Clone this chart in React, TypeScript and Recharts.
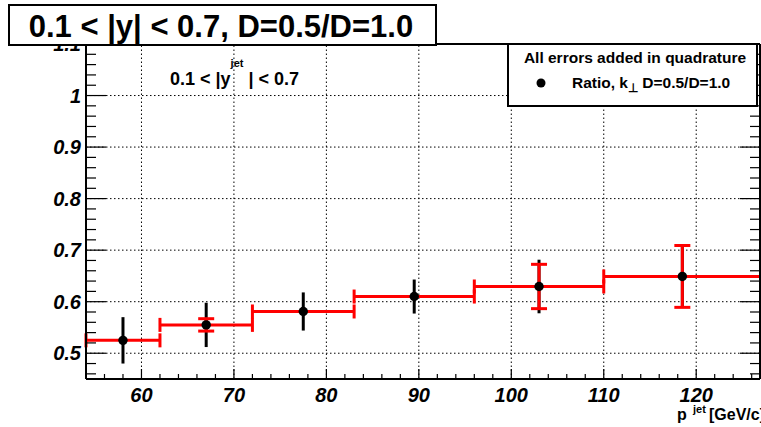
import React from 'react';
import { ComposedChart, Scatter, XAxis, YAxis, ErrorBar, ReferenceLine } from 'recharts';

// ---- data ----
const binLow = [54, 62, 72, 83, 96, 110];
const binHigh = [62, 72, 83, 96, 110, 127];
const ptX = [58, 67, 77.5, 89.5, 103, 118.5];
const ratio = [0.525, 0.555, 0.581, 0.61, 0.6295, 0.649];
const statErr = [0.045, 0.043, 0.037, 0.033, 0.052, 0.061];
const sysErr = [0, 0.012, 0, 0, 0.043, 0.06];

const xMajorTicks = [60, 70, 80, 90, 100, 110, 120];
const yMajorTicks = [0.5, 0.6, 0.7, 0.8, 0.9, 1.0, 1.1];
const yGridTicks = [0.5, 0.6, 0.7, 0.8, 0.9, 1.0];
const xAllTicks = Array.from({ length: 37 }, (_, i) => 54 + 2 * i);
const yAllTicks = Array.from({ length: 33 }, (_, i) => Math.round((0.46 + 0.02 * i) * 100) / 100);

const xDomain: [number, number] = [54, 126.9];
const yDomain: [number, number] = [0.45, 1.1];

const points = ptX.map((x, i) => ({
  x,
  y: ratio[i],
  xBin: [x - binLow[i], binHigh[i] - x],
  yStat: statErr[i],
  ySys: sysErr[i],
}));

const FONT = '"Liberation Sans", Arial, Helvetica, sans-serif';

const isMajorX = (v: number) => xMajorTicks.some((m) => Math.abs(m - v) < 1e-6);
const isMajorY = (v: number) => yMajorTicks.some((m) => Math.abs(m - v) < 1e-6);

const BottomTick = (props: any) => {
  const { x, y, payload } = props;
  const v = payload.value;
  const major = isMajorX(v);
  return (
    <g>
      <line x1={x} x2={x} y1={y} y2={y - (major ? 10 : 5)} stroke="#000" strokeWidth={1.2} />
      {major && (
        <text x={x} y={y + 23} textAnchor="middle" fontSize={20} fontWeight="bold" fontStyle="italic" fontFamily={FONT} fill="#000">
          {v}
        </text>
      )}
    </g>
  );
};

const TopTick = (props: any) => {
  const { x, y, payload } = props;
  const major = isMajorX(payload.value);
  return <line x1={x} x2={x} y1={y} y2={y + (major ? 10 : 5)} stroke="#000" strokeWidth={1.2} />;
};

const LeftTick = (props: any) => {
  const { x, y, payload } = props;
  const v = payload.value;
  const major = isMajorY(v);
  return (
    <g>
      <line x1={x} x2={x + (major ? 20 : 10)} y1={y} y2={y} stroke="#000" strokeWidth={1.2} />
      {major && (
        <text x={x - 5} y={y + 7} textAnchor="end" fontSize={20} fontWeight="bold" fontStyle="italic" fontFamily={FONT} fill="#000">
          {String(v)}
        </text>
      )}
    </g>
  );
};

const RightTick = (props: any) => {
  const { x, y, payload } = props;
  const major = isMajorY(payload.value);
  return <line x1={x} x2={x - (major ? 20 : 10)} y1={y} y2={y} stroke="#000" strokeWidth={1.2} />;
};

const Dot = (props: any) => <circle cx={props.cx} cy={props.cy} r={4.7} fill="#000" />;

const axisLine = { stroke: '#000', strokeWidth: 2 };

export default function App() {
  return (
    <div style={{ position: 'absolute', left: 0, top: 0, width: 761, height: 427, background: '#fff', overflow: 'hidden' }}>
      <ComposedChart width={761} height={427} margin={{ top: 0, right: 0, bottom: 0, left: 0 }}>
        <XAxis
          xAxisId="bottom"
          orientation="bottom"
          dataKey="x"
          type="number"
          domain={xDomain}
          allowDataOverflow
          ticks={xAllTicks}
          interval={0}
          height={48}
          tickSize={0}
          tickMargin={0}
          tickLine={false}
          axisLine={axisLine}
          tick={(p: any) => <BottomTick {...p} />}
        />
        <XAxis
          xAxisId="top"
          orientation="top"
          type="number"
          domain={xDomain}
          allowDataOverflow
          ticks={xAllTicks}
          interval={0}
          height={44}
          tickSize={0}
          tickMargin={0}
          tickLine={false}
          axisLine={axisLine}
          tick={(p: any) => <TopTick {...p} />}
        />
        <YAxis
          yAxisId="left"
          orientation="left"
          dataKey="y"
          type="number"
          domain={yDomain}
          allowDataOverflow
          ticks={yAllTicks}
          interval={0}
          width={86}
          tickSize={0}
          tickMargin={0}
          tickLine={false}
          axisLine={axisLine}
          tick={(p: any) => <LeftTick {...p} />}
        />
        <YAxis
          yAxisId="right"
          orientation="right"
          type="number"
          domain={yDomain}
          allowDataOverflow
          ticks={yAllTicks}
          interval={0}
          width={1}
          tickSize={0}
          tickMargin={0}
          tickLine={false}
          axisLine={axisLine}
          tick={(p: any) => <RightTick {...p} />}
        />
        {xMajorTicks.map((v) => (
          <ReferenceLine key={'gx' + v} xAxisId="bottom" yAxisId="left" x={v} stroke="#000" strokeWidth={1} strokeDasharray="1.5 2.5" />
        ))}
        {yGridTicks.map((v) => (
          <ReferenceLine key={'gy' + v} xAxisId="bottom" yAxisId="left" y={v} stroke="#000" strokeWidth={1} strokeDasharray="1.5 2.5" />
        ))}
        <Scatter data={points} xAxisId="bottom" yAxisId="left" dataKey="y" isAnimationActive={false} shape={Dot}>
          <ErrorBar dataKey="yStat" direction="y" stroke="#000" strokeWidth={3} width={0} isAnimationActive={false} />
          <ErrorBar dataKey="xBin" direction="x" stroke="#ff0000" strokeWidth={3} width={7} isAnimationActive={false} />
          <ErrorBar dataKey="ySys" direction="y" stroke="#ff0000" strokeWidth={3} width={8} isAnimationActive={false} />
        </Scatter>
      </ComposedChart>
      <svg width={761} height={427} style={{ position: 'absolute', left: 0, top: 0, pointerEvents: 'none' }} fontFamily={FONT}>
        <rect x={9} y={5} width={427} height={40} fill="#fff" stroke="#000" strokeWidth={2} />
        <text x={221} y={37} textAnchor="middle" fontSize={31} fontWeight="bold" fill="#000">
          0.1 &lt; |y| &lt; 0.7, D=0.5/D=1.0
        </text>
        <rect x={508} y={44} width={249} height={62} fill="#fff" stroke="#000" strokeWidth={2} />
        <text x={635} y={63} textAnchor="middle" fontSize={15.5} fontWeight="bold" fill="#000">
          All errors added in quadrature
        </text>
        <circle cx={541} cy={83} r={4.5} fill="#000" />
        <text x={572} y={88} fontSize={15.5} fontWeight="bold" fill="#000">
          Ratio, k<tspan dy={4} fontSize={12}>⊥</tspan>
          <tspan dy={-4}> D=0.5/D=1.0</tspan>
        </text>
        <text x={170} y={85} fontSize={18} fontWeight="bold" fill="#000">
          0.1 &lt; |y<tspan dy={-18} fontSize={11}>jet</tspan>
          <tspan dy={18}> | &lt; 0.7</tspan>
        </text>
        <text x={677} y={420} fontSize={16} fontWeight="bold" fill="#000">p</text>
        <text x={693} y={413} fontSize={11} fontWeight="bold" fill="#000">jet</text>
        <text x={688} y={438} fontSize={11} fontWeight="bold" fill="#000">T</text>
        <text x={709} y={420} fontSize={16} fontWeight="bold" fill="#000">[GeV/c]</text>
      </svg>
    </div>
  );
}
